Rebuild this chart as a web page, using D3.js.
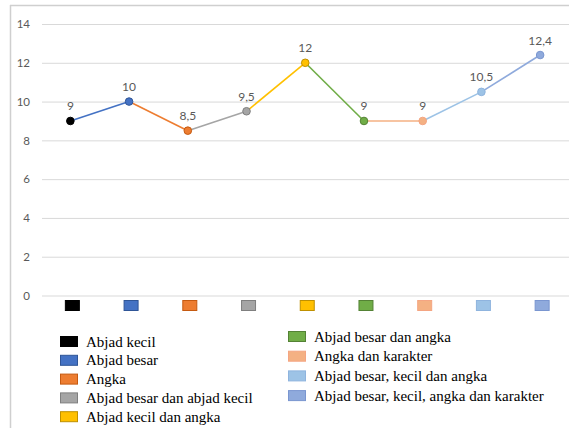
<!DOCTYPE html>
<html>
<head>
<meta charset="utf-8">
<script src="https://cdn.jsdelivr.net/npm/d3@7"></script>
<style>
  html, body { margin: 0; padding: 0; background: #fff; }
  svg { display: block; }
</style>
</head>
<body>
<svg id="chart" width="569" height="428"></svg>
<script>
// Password composition categories and their scores
const categories = [
  "Abjad kecil",
  "Abjad besar",
  "Angka",
  "Abjad besar dan abjad kecil",
  "Abjad kecil dan angka",
  "Abjad besar dan angka",
  "Angka dan karakter",
  "Abjad besar, kecil dan angka",
  "Abjad besar, kecil, angka dan karakter"
];
const values = [9, 10, 8.5, 9.5, 12, 9, 9, 10.5, 12.4];
const fillColors = ["#000000", "#4472C4", "#ED7D31", "#A5A5A5", "#FFC000", "#70AD47", "#F4B183", "#9DC3E6", "#8FAADC"];
const strokeColors = ["#000000", "#2F5597", "#C55A11", "#7F7F7F", "#BF9000", "#548235", "#F4A582", "#8FB4DE", "#7A96D0"];
const yTicks = [0, 2, 4, 6, 8, 10, 12, 14];

// Decimal comma for labels
const locale = d3.formatLocale({ decimal: ",", thousands: ".", grouping: [3], currency: ["", ""] });
const fmt = v => Number.isInteger(v) ? String(v) : locale.format(".1f")(v);

const svg = d3.select("#chart");

const x = d3.scaleBand().domain(categories).range([41, 569.5]).padding(0);
const y = d3.scaleLinear().domain([0, 14]).range([295.5, 24]);
const cx = d => x(d) + x.bandwidth() / 2;

// Outer frame (top and left edges visible)
svg.append("line").attr("x1", 10).attr("x2", 569).attr("y1", 5.5).attr("y2", 5.5)
  .attr("stroke", "#cfcfcf").attr("stroke-width", 1.5);
svg.append("line").attr("x1", 10.5).attr("x2", 10.5).attr("y1", 5).attr("y2", 428)
  .attr("stroke", "#cfcfcf").attr("stroke-width", 1.5);

// Y axis with gridlines
const yAxis = d3.axisLeft(y).tickValues(yTicks).tickSize(-(569 - 42)).tickPadding(12);
const gy = svg.append("g").attr("transform", "translate(42,0)").call(yAxis);
gy.select(".domain").remove();
gy.selectAll(".tick line").attr("stroke", "#d9d9d9").attr("stroke-width", 1);
gy.selectAll(".tick text")
  .attr("fill", "#595959")
  .attr("font-family", "Lato, 'Open Sans', sans-serif")
  .attr("font-size", "11.5px")
  .attr("x", -12);

// Line segments, each coloured like the point it leads to
const segs = d3.pairs(categories.map((c, i) => ({ c, v: values[i], i })));
svg.append("g").selectAll("line").data(segs).join("line")
  .attr("x1", d => cx(d[0].c)).attr("y1", d => y(d[0].v))
  .attr("x2", d => cx(d[1].c)).attr("y2", d => y(d[1].v))
  .attr("stroke", d => fillColors[d[1].i])
  .attr("stroke-width", 1.6);

// Markers
svg.append("g").selectAll("circle").data(categories).join("circle")
  .attr("cx", d => cx(d)).attr("cy", (d, i) => y(values[i]))
  .attr("r", 3.8)
  .attr("fill", (d, i) => fillColors[i])
  .attr("stroke", (d, i) => strokeColors[i])
  .attr("stroke-width", 1);

// Value labels
svg.append("g").selectAll("text").data(categories).join("text")
  .attr("x", d => cx(d)).attr("y", (d, i) => y(values[i]) - 10.5)
  .attr("text-anchor", "middle")
  .attr("fill", "#595959")
  .attr("font-family", "Lato, 'Open Sans', sans-serif")
  .attr("font-size", "12px")
  .text((d, i) => fmt(values[i]));

// Category colour keys under the axis
svg.append("g").selectAll("rect").data(categories).join("rect")
  .attr("x", d => cx(d) - 5).attr("y", 300.5)
  .attr("width", 14).attr("height", 10)
  .attr("fill", (d, i) => fillColors[i])
  .attr("stroke", (d, i) => strokeColors[i])
  .attr("stroke-width", 1);

// Legend in two columns
const legendCols = [
  { items: d3.range(0, 5), x: 60, y0: 341.5, dy: 18.8 },
  { items: d3.range(5, 9), x: 288, y0: 336.5, dy: 19.7 }
];
legendCols.forEach(col => {
  const g = svg.append("g");
  const rows = g.selectAll("g").data(col.items).join("g")
    .attr("transform", (d, k) => `translate(${col.x},${col.y0 + k * col.dy})`);
  rows.append("rect")
    .attr("x", 0.5).attr("y", -5).attr("width", 17).attr("height", 10)
    .attr("fill", i => fillColors[i])
    .attr("stroke", i => strokeColors[i]).attr("stroke-width", 1);
  rows.append("text")
    .attr("x", 26).attr("y", 5)
    .attr("fill", "#000")
    .attr("font-family", "'Liberation Serif', 'Times New Roman', serif")
    .attr("font-size", "15px")
    .text(i => categories[i]);
});
</script>
</body>
</html>
